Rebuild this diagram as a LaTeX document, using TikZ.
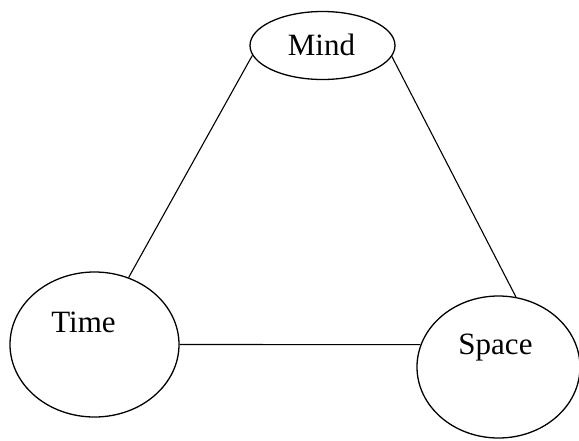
\documentclass[tikz,border=0pt]{standalone}
\usepackage{fontspec}
\setmainfont{Liberation Serif}
\usetikzlibrary{shapes.geometric}
\begin{document}
\begin{tikzpicture}[x=1pt,y=-1pt,
  oval/.style={ellipse,draw,line width=1.3pt,inner sep=0pt},
  word/.style={anchor=base,inner sep=0pt,font=\fontsize{31}{37}\selectfont},
  link/.style={line width=1.1pt}]
  \useasboundingbox (0,0) rectangle (579,440);
  % the three ovals
  \node[oval,minimum width=145pt,minimum height=68pt] (mind) at (322.5,45.5) {};
  \node[oval,minimum width=169pt,minimum height=145pt] (time) at (94.5,344.5) {};
  \node[oval,minimum width=163pt,minimum height=142pt] (space) at (498.5,367) {};
  % labels inside the ovals
  \node[word] (mindtext) at (321.5,55) {Mind};
  \node[word] (timetext) at (83.5,332) {Time};
  \node[word] (spacetext) at (495.5,354) {Space};
  % connecting lines
  \draw[link] (mind.188.6) -- (time.63);
  \draw[link] (mind.-9.3) -- (space.76.9);
  \draw[link] (time.0) -- (space.164.7);
\end{tikzpicture}
\end{document}
